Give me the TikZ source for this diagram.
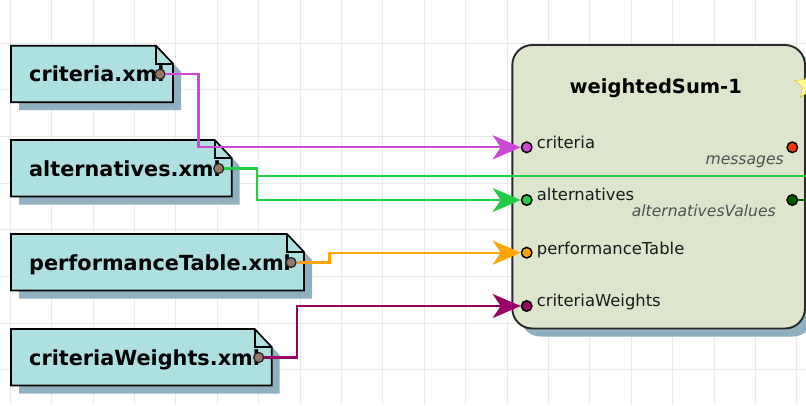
\documentclass[tikz,border=0pt]{standalone}
\usepackage{fontspec}
\setmainfont{DejaVu Sans}
\usetikzlibrary{arrows.meta, shapes.geometric, positioning}
\definecolor{gridgray}{RGB}{234,234,234}
\definecolor{docfill}{RGB}{174,223,225}
\definecolor{shadowblue}{RGB}{143,176,192}
\definecolor{boxfill}{RGB}{221,230,204}
\definecolor{boxedge}{RGB}{40,40,40}
\definecolor{portbrown}{RGB}{150,122,104}
\definecolor{labelgray}{RGB}{80,80,80}
\definecolor{critcol}{RGB}{206,72,214}
\definecolor{altcol}{RGB}{34,204,68}
\definecolor{perfcol}{RGB}{255,165,0}
\definecolor{weightcol}{RGB}{153,0,102}
\definecolor{msgcol}{RGB}{255,51,0}
\definecolor{valcol}{RGB}{0,96,0}
\definecolor{staryellow}{RGB}{255,250,130}
\definecolor{staredge}{RGB}{200,190,60}
% file box with folded corner: name, left, top, right, text
\newcommand{\datafile}[5]{%
  \fill[docshadow] ({#2+8},{#3+8}) -- ({#4-9},{#3+8}) -- ({#4+8},{#3+26}) -- ({#4+8},{#3+64.5}) -- ({#2+8},{#3+64.5}) -- cycle;
  \draw[docbox] (#2,#3) -- ({#4-17},#3) -- (#4,{#3+18}) -- (#4,{#3+56.5}) -- (#2,{#3+56.5}) -- cycle;
  \draw[docbox, fill=none] ({#4-17},#3) |- (#4,{#3+18});
  \node[doclabel] (#1) at ({#2+18},{#3+36}) {#5};
  \node[fileport] (#1-out) at ({#4-13},{#3+28.5}) {};
}

\begin{document}
\begin{tikzpicture}[x=1pt, y=-1pt,
    gridline/.style={draw=gridgray, line width=1pt},
    docbox/.style={draw=black, fill=docfill, line width=1.7pt},
    docshadow/.style={fill=shadowblue},
    doclabel/.style={anchor=base west, inner sep=0pt, font=\fontsize{20.8}{25}\selectfont\bfseries},
    fileport/.style={circle, draw=black!85, fill=portbrown, line width=1.3pt, inner sep=0pt, minimum size=10pt},
    inport/.style={circle, draw=black, fill=#1, line width=1.5pt, inner sep=0pt, minimum size=10.5pt},
    portlabel/.style={anchor=base west, inner sep=0pt, text=black!90, font=\fontsize{16.4}{19}\selectfont},
    outlabel/.style={anchor=base east, inner sep=0pt, text=labelgray, font=\fontsize{15.6}{18}\selectfont\itshape},
    wire/.style={draw=#1, line width=2.2pt, -{Stealth[length=28pt, width=24pt, inset=8pt]}},
    link/.style={draw=#1, line width=2.2pt}]
    % frame
    \useasboundingbox (0,0) rectangle (806,405);
    \clip (0,0) rectangle (806,405);
    % grid
    \foreach \i in {0,...,19}
        \draw[gridline] ({10.3+41.4*\i},0) -- ++(0,405);
    \foreach \j in {0,...,8}
        \draw[gridline] (0,{43+46.7*\j}) -- ++(806,0);
    % input files
    \datafile{criteria}{11}{45.7}{173}{criteria.xml}
    \datafile{alternatives}{11}{140}{231.7}{alternatives.xml}
    \datafile{perftable}{11}{234}{304}{performanceTable.xml}
    \datafile{weights}{11}{329}{271.7}{criteriaWeights.xml}
    % weightedSum box
    \fill[shadowblue, rounded corners=20pt] (520.3,53) rectangle (813,336.5);
    \draw[fill=boxfill, draw=boxedge, line width=1.9pt, rounded corners=20pt] (512.3,45) rectangle (805,328.5);
    \node[star, star points=5, star point ratio=2.2, fill=staryellow, draw=staredge, minimum size=30pt, inner sep=0pt] (wsum-flag) at (809,85) {};
    \node[anchor=base, inner sep=0pt, font=\fontsize{19.5}{23}\selectfont\bfseries] (wsum-title) at (655.8,93.3) {weightedSum-1};
    % ports of weightedSum
    \node[inport=critcol] (in-criteria) at (526.7,147.3) {};
    \node[inport=altcol] (in-alternatives) at (526.7,200) {};
    \node[inport=perfcol] (in-perftable) at (526.7,252.7) {};
    \node[inport=weightcol] (in-weights) at (526.7,306) {};
    \node[inport=msgcol] (out-messages) at (792.3,147.3) {};
    \node[inport=valcol] (out-values) at (792.3,200) {};
    \node[portlabel] (lab-criteria) at (536.7,148.3) {criteria};
    \node[portlabel] (lab-alternatives) at (536.7,200.7) {alternatives};
    \node[portlabel] (lab-perftable) at (536.7,254) {performanceTable};
    \node[portlabel] (lab-weights) at (536.7,306.7) {criteriaWeights};
    \node[outlabel] (lab-messages) at (784,164) {messages};
    \node[outlabel] (lab-values) at (776,216.7) {alternativesValues};
    % loose ends
    \coordinate (alt-exit) at (830,175.7);
    \coordinate (values-exit) at (830,200);
    % connections
    \draw[link=altcol] (alternatives-out) -- ++(38.5,0) |- (alt-exit);
    \draw[wire=critcol] (criteria-out) -- ++(38.5,0) |- (in-criteria);
    \draw[wire=altcol] (alternatives-out) -- ++(38.5,0) |- (in-alternatives);
    \draw[wire=perfcol] (perftable-out) -- ++(38.5,0) |- (in-perftable);
    \draw[wire=weightcol] (weights-out) -- ++(38.5,0) |- (in-weights);
    \draw[link=valcol] (out-values) -- (values-exit);
\end{tikzpicture}
\end{document}
